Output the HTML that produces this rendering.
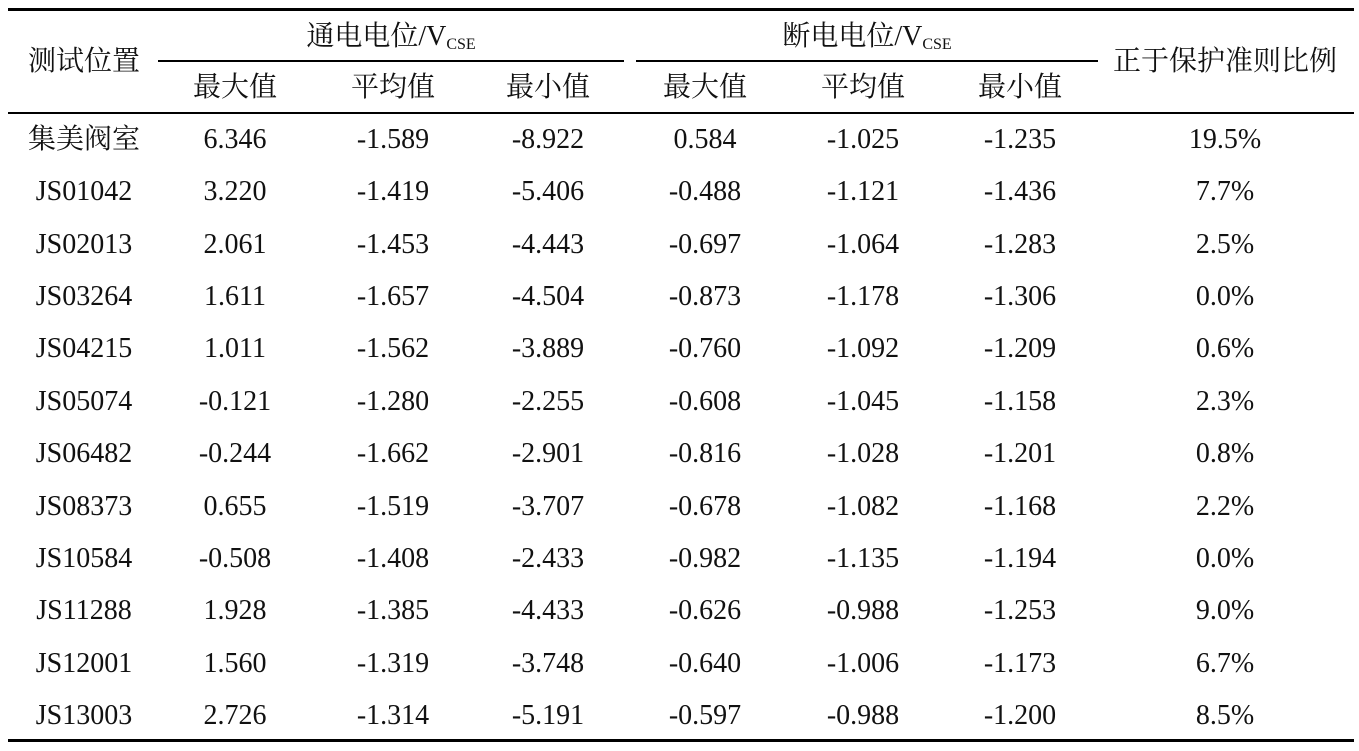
<!DOCTYPE html>
<html><head><meta charset="utf-8"><style>
body{margin:0;width:1359px;height:751px;background:#fff;position:relative;overflow:hidden;font-family:"Liberation Serif","Noto Serif CJK SC","Noto Sans CJK SC",serif;color:#111;font-size:28px}
.l{position:absolute;background:#000}
.t{position:absolute;transform:translate(-50%,-50%);white-space:nowrap;line-height:1}
sub{font-size:16px;vertical-align:-4px}
</style></head><body>
<div class="l" style="left:8px;top:8px;width:1346px;height:3px"></div>
<div class="l" style="left:158px;top:60px;width:466px;height:2px"></div>
<div class="l" style="left:636px;top:60px;width:462px;height:2px"></div>
<div class="l" style="left:8px;top:112px;width:1346px;height:2px"></div>
<div class="l" style="left:8px;top:739px;width:1346px;height:3px"></div>
<div class="t" style="left:84px;top:62px">测试位置</div>
<div class="t" style="left:391px;top:38px">通电电位/V<sub>CSE</sub></div>
<div class="t" style="left:867px;top:38px">断电电位/V<sub>CSE</sub></div>
<div class="t" style="left:1225px;top:62px">正于保护准则比例</div>
<div class="t" style="left:235px;top:88px">最大值</div>
<div class="t" style="left:393px;top:88px">平均值</div>
<div class="t" style="left:548px;top:88px">最小值</div>
<div class="t" style="left:705px;top:88px">最大值</div>
<div class="t" style="left:863px;top:88px">平均值</div>
<div class="t" style="left:1020px;top:88px">最小值</div>
<div id="rows"></div>
<script>
var d=[["集美阀室","6.346","-1.589","-8.922","0.584","-1.025","-1.235","19.5%"],
["JS01042","3.220","-1.419","-5.406","-0.488","-1.121","-1.436","7.7%"],
["JS02013","2.061","-1.453","-4.443","-0.697","-1.064","-1.283","2.5%"],
["JS03264","1.611","-1.657","-4.504","-0.873","-1.178","-1.306","0.0%"],
["JS04215","1.011","-1.562","-3.889","-0.760","-1.092","-1.209","0.6%"],
["JS05074","-0.121","-1.280","-2.255","-0.608","-1.045","-1.158","2.3%"],
["JS06482","-0.244","-1.662","-2.901","-0.816","-1.028","-1.201","0.8%"],
["JS08373","0.655","-1.519","-3.707","-0.678","-1.082","-1.168","2.2%"],
["JS10584","-0.508","-1.408","-2.433","-0.982","-1.135","-1.194","0.0%"],
["JS11288","1.928","-1.385","-4.433","-0.626","-0.988","-1.253","9.0%"],
["JS12001","1.560","-1.319","-3.748","-0.640","-1.006","-1.173","6.7%"],
["JS13003","2.726","-1.314","-5.191","-0.597","-0.988","-1.200","8.5%"]];
var xs=[84,235,393,548,705,863,1020,1225],h="";
d.forEach(function(r,i){var y=140+i*52.36;r.forEach(function(c,j){h+='<div class="t" style="left:'+xs[j]+'px;top:'+y+'px">'+c+'</div>';});});
document.getElementById("rows").innerHTML=h;
</script>
</body></html>
